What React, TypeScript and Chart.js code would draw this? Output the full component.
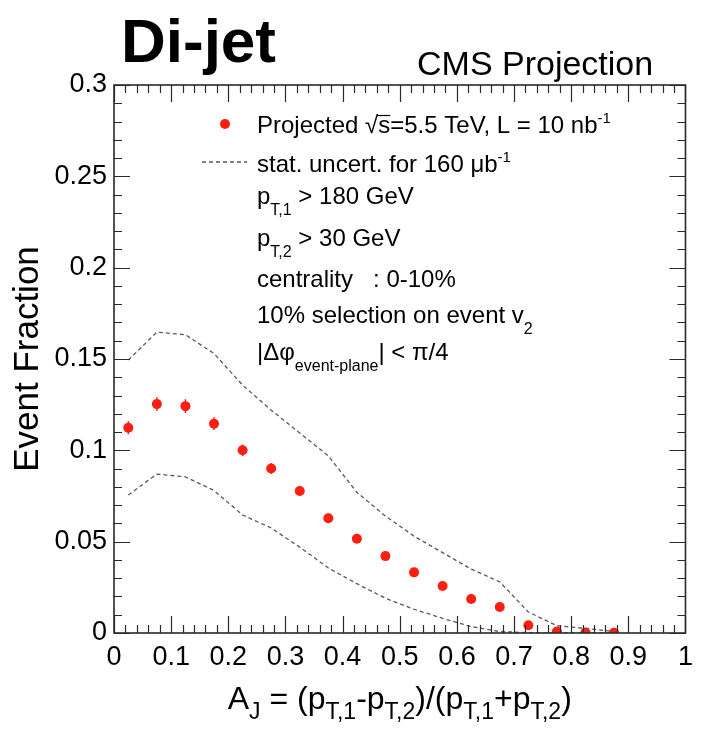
import { useEffect, useRef } from "react";
import { Chart, registerables } from "chart.js";

Chart.register(...registerables);

// ---- Data ----
const binCenters = [0.025, 0.075, 0.125, 0.175, 0.225, 0.275, 0.325, 0.375, 0.425, 0.475, 0.525, 0.575, 0.625, 0.675, 0.725, 0.775, 0.825, 0.875];
const eventFraction = [0.1124, 0.1253, 0.1242, 0.1146, 0.1, 0.0901, 0.0777, 0.0628, 0.0516, 0.0421, 0.0332, 0.0257, 0.0186, 0.0142, 0.0042, 0.0008, 0.0003, 0.0001];
const statError = [0.0036, 0.0038, 0.0038, 0.0035, 0.0032, 0.003, 0.0027, 0.0024, 0.0022, 0.002, 0.0018, 0.0016, 0.0014, 0.0012, 0.0007, 0.0004, 0.0003, 0.0002];
const upperBand = [0.1494, 0.1647, 0.1633, 0.153, 0.1357, 0.122, 0.1095, 0.097, 0.077, 0.064, 0.053, 0.044, 0.035, 0.028, 0.0115, 0.004, 0.0025, 0.0008];
const lowerBand = [0.0755, 0.087, 0.0855, 0.078, 0.0646, 0.0575, 0.047, 0.0356, 0.027, 0.019, 0.013, 0.008, 0.0035, 0.0008, 0.0002, 0.0, 0.0, 0.0];

const xMin = 0, xMax = 1, xMajorStep = 0.1, xMinorStep = 0.02;
const yMin = 0, yMax = 0.3, yMajorStep = 0.05, yMinorStep = 0.01;

const titleText = "Di-jet";
const experimentText = "CMS Projection";
const yAxisTitle = "Event Fraction";

type Seg = { t: string; k?: "sub" | "sup" };
const xAxisTitle: Seg[] = [
  { t: "A" }, { t: "J", k: "sub" }, { t: " = (p" }, { t: "T,1", k: "sub" }, { t: "-p" }, { t: "T,2", k: "sub" },
  { t: ")/(p" }, { t: "T,1", k: "sub" }, { t: "+p" }, { t: "T,2", k: "sub" }, { t: ")" },
];
const legendPoints: Seg[] = [{ t: "Projected " }, { t: "√s=5.5 TeV, L = 10 nb" }, { t: "-1", k: "sup" }];
const legendBand: Seg[] = [{ t: "stat. uncert. for 160 μb" }, { t: "-1", k: "sup" }];
const infoLines: Seg[][] = [
  [{ t: "p" }, { t: "T,1", k: "sub" }, { t: " > 180 GeV" }],
  [{ t: "p" }, { t: "T,2", k: "sub" }, { t: " > 30 GeV" }],
  [{ t: "centrality   : 0-10%" }],
  [{ t: "10% selection on event v" }, { t: "2", k: "sub" }],
  [{ t: "|Δφ" }, { t: "event-plane", k: "sub" }, { t: "| < π/4" }],
];

const FONT = '"Liberation Sans", Arial, Helvetica, sans-serif';
const RED = "#ff1e10";
const BAND = "#5a5a5a";

function drawRich(
  ctx: CanvasRenderingContext2D, segs: Seg[], x: number, y: number,
  size: number, small: number, subDy: number, supDy: number, align: "left" | "center" = "left"
) {
  const widths = segs.map((s) => {
    ctx.font = `${s.k ? small : size}px ${FONT}`;
    return ctx.measureText(s.t).width;
  });
  const total = widths.reduce((a, b) => a + b, 0);
  let cx = align === "center" ? x - total / 2 : x;
  const starts: number[] = [];
  segs.forEach((s, i) => {
    ctx.font = `${s.k ? small : size}px ${FONT}`;
    const dy = s.k === "sub" ? subDy : s.k === "sup" ? -supDy : 0;
    starts.push(cx);
    ctx.fillText(s.t, cx, y + dy);
    cx += widths[i];
  });
  return { starts, widths };
}

const decorPlugin = {
  id: "decor",
  beforeDatasetsDraw(chart: any) {
    // error bars for projected points
    const ctx: CanvasRenderingContext2D = chart.ctx;
    const xs = chart.scales.x, ys = chart.scales.y;
    ctx.save();
    ctx.strokeStyle = RED;
    ctx.lineWidth = 1.4;
    binCenters.forEach((b, i) => {
      const px = xs.getPixelForValue(b);
      ctx.beginPath();
      ctx.moveTo(px, ys.getPixelForValue(eventFraction[i] - statError[i]));
      ctx.lineTo(px, ys.getPixelForValue(eventFraction[i] + statError[i]));
      ctx.stroke();
    });
    ctx.restore();
  },
  afterDatasetsDraw(chart: any) {
    const ctx: CanvasRenderingContext2D = chart.ctx;
    const xs = chart.scales.x, ys = chart.scales.y;
    const { left, right, top, bottom } = chart.chartArea;
    ctx.save();
    ctx.strokeStyle = "#2a2a2a";
    ctx.lineWidth = 1.2;
    // x ticks (bottom and top)
    const nx = Math.round((xMax - xMin) / xMinorStep);
    const perMajorX = Math.round(xMajorStep / xMinorStep);
    for (let i = 0; i <= nx; i++) {
      const v = xMin + i * xMinorStep;
      const px = Math.round(xs.getPixelForValue(v)) + 0.5;
      const len = i % perMajorX === 0 ? 17 : 8;
      ctx.beginPath();
      ctx.moveTo(px, bottom); ctx.lineTo(px, bottom - len);
      ctx.moveTo(px, top); ctx.lineTo(px, top + len);
      ctx.stroke();
    }
    const ny = Math.round((yMax - yMin) / yMinorStep);
    const perMajorY = Math.round(yMajorStep / yMinorStep);
    for (let i = 0; i <= ny; i++) {
      const v = yMin + i * yMinorStep;
      const py = Math.round(ys.getPixelForValue(v)) + 0.5;
      const len = i % perMajorY === 0 ? 16 : 8;
      ctx.beginPath();
      ctx.moveTo(left, py); ctx.lineTo(left + len, py);
      ctx.moveTo(right, py); ctx.lineTo(right - len, py);
      ctx.stroke();
    }
    ctx.lineWidth = 1.6;
    ctx.strokeRect(left, top, right - left, bottom - top);
    ctx.restore();
  },
  afterDraw(chart: any) {
    const ctx: CanvasRenderingContext2D = chart.ctx;
    const { left, right, top, bottom } = chart.chartArea;
    ctx.save();
    ctx.fillStyle = "#000";
    ctx.textBaseline = "alphabetic";
    ctx.textAlign = "left";
    // title
    ctx.font = `bold 62px ${FONT}`;
    ctx.fillText(titleText, 121, 62);
    ctx.font = `34px ${FONT}`;
    ctx.fillText(experimentText, 417, 75);
    // y axis title
    ctx.save();
    ctx.translate(38, (top + bottom) / 2);
    ctx.rotate(-Math.PI / 2);
    ctx.textAlign = "center";
    ctx.font = `35px ${FONT}`;
    ctx.fillText(yAxisTitle, 0, 0);
    ctx.restore();
    // x axis title
    drawRich(ctx, xAxisTitle, (left + right) / 2, 709, 32, 23, 10, 0, "center");
    // legend
    const tx = 257;
    ctx.fillStyle = RED;
    ctx.beginPath();
    ctx.arc(225, 124, 5, 0, Math.PI * 2);
    ctx.fill();
    ctx.fillStyle = "#000";
    const r = drawRich(ctx, legendPoints, tx, 133, 24, 15, 10, 10);
    // overline over the "s" under the root sign
    ctx.font = `24px ${FONT}`;
    const rootW = ctx.measureText("√").width;
    const sW = ctx.measureText("s").width;
    const ox = r.starts[1] + rootW - 1;
    ctx.strokeStyle = "#000";
    ctx.lineWidth = 1.2;
    ctx.beginPath();
    ctx.moveTo(ox, 115.5);
    ctx.lineTo(ox + sW + 1, 115.5);
    ctx.stroke();
    // band legend
    ctx.strokeStyle = BAND;
    ctx.lineWidth = 1.3;
    ctx.setLineDash([4, 3]);
    ctx.beginPath();
    ctx.moveTo(202, 162);
    ctx.lineTo(247, 162);
    ctx.stroke();
    ctx.setLineDash([]);
    drawRich(ctx, legendBand, tx, 172, 24, 15, 10, 10);
    const baselines = [204, 246, 287, 323, 360];
    infoLines.forEach((segs, i) => drawRich(ctx, segs, tx, baselines[i], 24, 16, 11, 10));
    ctx.restore();
  },
};

export default function App() {
  const ref = useRef<HTMLCanvasElement | null>(null);
  useEffect(() => {
    if (!ref.current) return;
    const pts = binCenters.map((x, i) => ({ x, y: eventFraction[i] }));
    const up = binCenters.map((x, i) => ({ x, y: upperBand[i] }));
    const lo = binCenters.map((x, i) => ({ x, y: lowerBand[i] }));
    const fmt = (v: number) => {
      const n = Number(Number(v).toFixed(2));
      return n === 0 ? "0" : String(n);
    };
    const chart = new Chart(ref.current, {
      type: "scatter",
      data: {
        datasets: [
          { label: "upper", data: up, showLine: true, borderColor: BAND, borderWidth: 1.3, borderDash: [4, 3], pointRadius: 0, fill: false, tension: 0 },
          { label: "lower", data: lo, showLine: true, borderColor: BAND, borderWidth: 1.3, borderDash: [4, 3], pointRadius: 0, fill: false, tension: 0 },
          { label: "points", data: pts, showLine: false, pointRadius: 5, pointBackgroundColor: RED, pointBorderWidth: 0, backgroundColor: RED },
        ],
      },
      options: {
        animation: false,
        responsive: false,
        maintainAspectRatio: false,
        layout: { padding: { top: 85, right: 11, left: 0, bottom: 0 } },
        plugins: { legend: { display: false }, tooltip: { enabled: false }, title: { display: false } },
        scales: {
          x: {
            type: "linear",
            min: xMin,
            max: xMax,
            grid: { display: false, drawTicks: false },
            border: { display: false },
            ticks: {
              stepSize: xMajorStep,
              autoSkip: false,
              maxRotation: 0,
              padding: 8,
              color: "#000",
              font: { family: FONT, size: 27 },
              callback: (v: any) => fmt(v),
            },
            afterFit: (s: any) => { s.height = 103; },
          },
          y: {
            type: "linear",
            min: yMin,
            max: yMax,
            grid: { display: false, drawTicks: false },
            border: { display: false },
            ticks: {
              stepSize: yMajorStep,
              autoSkip: false,
              padding: 7,
              color: "#000",
              font: { family: FONT, size: 27 },
              callback: (v: any) => fmt(v),
            },
            afterFit: (s: any) => { s.width = 114; },
          },
        },
      },
      plugins: [decorPlugin],
    } as any);
    return () => chart.destroy();
  }, []);
  return (
    <div style={{ position: "absolute", left: 0, top: 0, width: 701, height: 736, background: "#fff" }}>
      <canvas ref={ref} width={701} height={736} style={{ display: "block", width: 701, height: 736 }} />
    </div>
  );
}
